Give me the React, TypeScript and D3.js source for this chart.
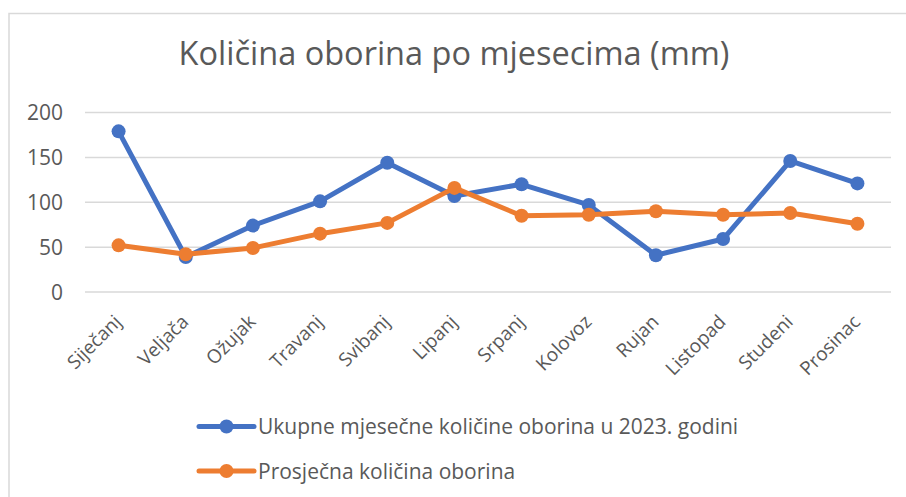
import * as d3 from 'd3';

const months = ['Siječanj', 'Veljača', 'Ožujak', 'Travanj', 'Svibanj', 'Lipanj', 'Srpanj', 'Kolovoz', 'Rujan', 'Listopad', 'Studeni', 'Prosinac'];
const total2023 = [179, 39, 74, 101, 144, 107, 120, 97, 41, 59, 146, 121];
const average = [52, 42, 49, 65, 77, 116, 85, 86, 90, 86, 88, 76];
const yTicks = [0, 50, 100, 150, 200];

const series = [
  { label: 'Ukupne mjesečne količine oborina u 2023. godini', values: total2023, color: '#4472C4' },
  { label: 'Prosječna količina oborina', values: average, color: '#ED7D31' },
];

const W = 906;
const H = 497;
const font = '"Open Sans", sans-serif';
const textColor = '#595959';

export default function App() {
  const x = d3.scaleBand<string>().domain(months).range([85, 891]);
  const y = d3.scaleLinear().domain([0, 200]).range([292, 112.5]);
  const cxOf = (i: number) => (x(months[i]) as number) + x.bandwidth() / 2;
  const line = d3.line<number>()
    .x((_, i) => cxOf(i))
    .y((d) => y(d));

  return (
    <svg width={W} height={H} style={{ position: 'fixed', left: 0, top: 0, background: '#fff' }}>
      <rect x={9} y={13.5} width={W + 20} height={H + 20} fill="#fff" stroke="#D9D9D9" strokeWidth={1.5} />

      <text x={454} y={65} textAnchor="middle" fill={textColor} fontSize={32.5} fontFamily={font}>
        Količina oborina po mjesecima (mm)
      </text>

      {/* Grid + y labels */}
      {yTicks.map((t) => (
        <g key={t}>
          <line x1={85} x2={891} y1={y(t)} y2={y(t)} stroke="#D9D9D9" strokeWidth={1.5} />
          <text x={63} y={y(t)} dy="0.36em" textAnchor="end" fill={textColor} fontSize={21} fontFamily={font}>
            {t}
          </text>
        </g>
      ))}

      {/* X labels */}
      {months.map((m, i) => (
        <text key={m} transform={`translate(${cxOf(i) + 4},323) rotate(-45)`} textAnchor="end"
          fill={textColor} fontSize={19} fontFamily={font}>
          {m}
        </text>
      ))}

      {/* Lines */}
      {series.map((s) => (
        <g key={s.label}>
          <path d={line(s.values) || ''} fill="none" stroke={s.color} strokeWidth={5} strokeLinejoin="round" strokeLinecap="round" />
          {s.values.map((v, i) => (
            <circle key={i} cx={cxOf(i)} cy={y(v)} r={7} fill={s.color} />
          ))}
        </g>
      ))}

      {/* Legend */}
      {series.map((s, i) => {
        const ly = 426.5 + i * 44.5;
        return (
          <g key={s.label}>
            <line x1={199} x2={254} y1={ly} y2={ly} stroke={s.color} strokeWidth={5} strokeLinecap="round" />
            <circle cx={226.5} cy={ly} r={7} fill={s.color} />
            <text x={258} y={ly} dy="0.36em" fill={textColor} fontSize={21} fontFamily={font}>
              {s.label}
            </text>
          </g>
        );
      })}
    </svg>
  );
}
